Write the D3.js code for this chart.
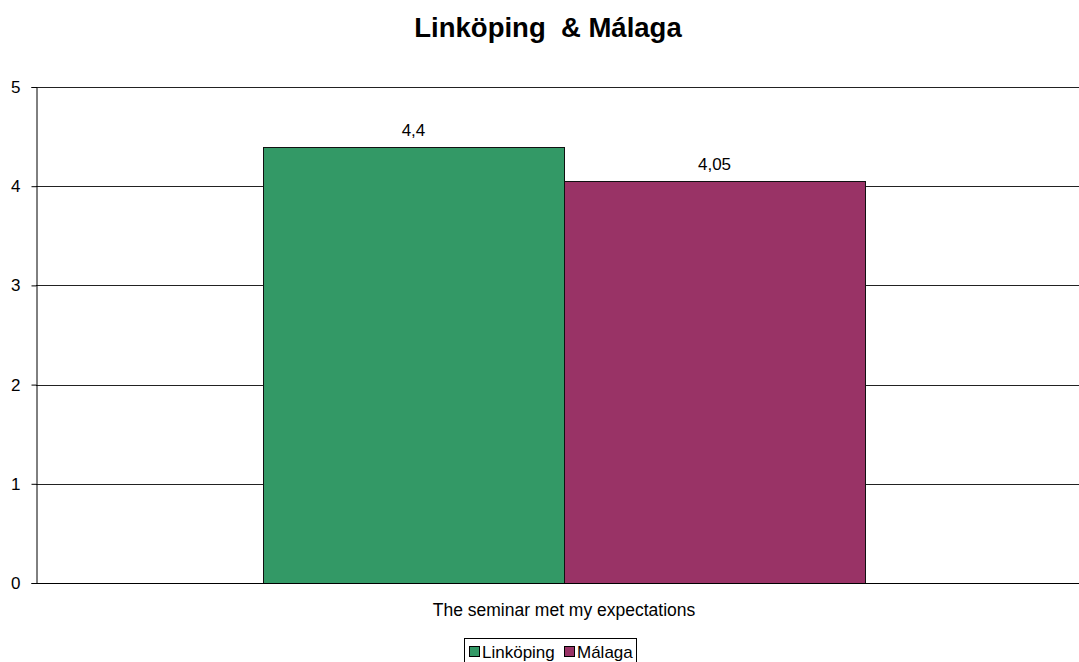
<!DOCTYPE html>
<html><head><meta charset="utf-8">
<script src="https://cdn.jsdelivr.net/npm/d3@7"></script>
<style>body{margin:0;background:#fff}svg{display:block;font-family:Arial,"Liberation Sans",sans-serif}</style>
</head><body><svg id="c" width="1079" height="662"></svg>
<script>
const title = "Linköping\u00a0 & Málaga";
const categories = ["The seminar met my expectations"];
const seriesNames = ["Linköping", "Málaga"];
const seriesValues = [[4.4], [4.05]];
const valueLabels = [["4,4"], ["4,05"]];
const yTicks = [0, 1, 2, 3, 4, 5];
const colors = ["#339966", "#993366"];

const svg = d3.select("#c");
const W = 1079, H = 662;
const m = {left: 36, right: -13, top: 87, bottom: 79};
const x0 = d3.scaleBand().domain(categories).range([m.left, W - m.right]).paddingInner(0).paddingOuter(0.377);
const x1 = d3.scaleBand().domain(seriesNames).range([0, x0.bandwidth()]);
const y = d3.scaleLinear().domain([0, 5]).range([H - m.bottom, m.top]);

// gridlines
svg.append("g").selectAll("line").data(yTicks.filter(d => d > 0)).join("line")
  .attr("x1", m.left).attr("x2", W).attr("y1", d => Math.round(y(d)) + 0.5).attr("y2", d => Math.round(y(d)) + 0.5)
  .attr("stroke", "#222").attr("stroke-width", 1);

// bars
const g = svg.append("g");
categories.forEach((c, ci) => {
  seriesNames.forEach((s, si) => {
    const v = seriesValues[si][ci];
    const bx = x0(c) + x1(s);
    g.append("rect").attr("x", Math.round(bx) + 0.5).attr("y", Math.round(y(v)) + 0.5)
      .attr("width", Math.round(x1.bandwidth())).attr("height", Math.round(y(0) - y(v)))
      .attr("fill", colors[si]).attr("stroke", "#111").attr("stroke-width", 1);
    g.append("text").attr("x", bx + x1.bandwidth() / 2).attr("y", y(v) - 11)
      .attr("text-anchor", "middle").attr("font-size", 17).attr("fill", "#000").text(valueLabels[si][ci]);
  });
});

// y axis
const yAxis = d3.axisLeft(y).tickValues(yTicks).tickSize(5).tickFormat(d3.format("d"));
const ya = svg.append("g").attr("transform", `translate(${m.left + 0.5},0)`).call(yAxis);
ya.select(".domain").attr("stroke", "#000");
ya.selectAll(".tick line").attr("stroke", "#000");
ya.selectAll(".tick text").attr("font-size", 17).attr("fill", "#000").attr("x", -16).attr("font-family", "Arial, Liberation Sans, sans-serif");

// x axis
const xa = svg.append("g").attr("transform", `translate(0,${Math.round(y(0)) + 0.5})`)
  .call(d3.axisBottom(x0).tickSize(0));
xa.select(".domain").attr("stroke", "#000").attr("d", `M${m.left},0H${W}`);
xa.selectAll(".tick text").attr("font-size", 17.5).attr("fill", "#000").attr("dy", 0).attr("y", 32)
  .attr("font-family", "Arial, Liberation Sans, sans-serif");

// title
svg.append("text").attr("x", 548).attr("y", 37).attr("text-anchor", "middle")
  .attr("font-size", 27.5).attr("font-weight", "bold").attr("fill", "#000").text(title);

// legend
const lg = svg.append("g");
lg.append("rect").attr("x", 464.5).attr("y", 638.5).attr("width", 172).attr("height", 26)
  .attr("fill", "#fff").attr("stroke", "#000");
const itemX = [469, 564];
seriesNames.forEach((s, i) => {
  lg.append("rect").attr("x", itemX[i] + 0.5).attr("y", 646.5).attr("width", 10).attr("height", 10)
    .attr("fill", colors[i]).attr("stroke", "#000");
  lg.append("text").attr("x", itemX[i] + 13).attr("y", 658).attr("font-size", 17).attr("fill", "#000").text(s);
});
</script></body></html>
